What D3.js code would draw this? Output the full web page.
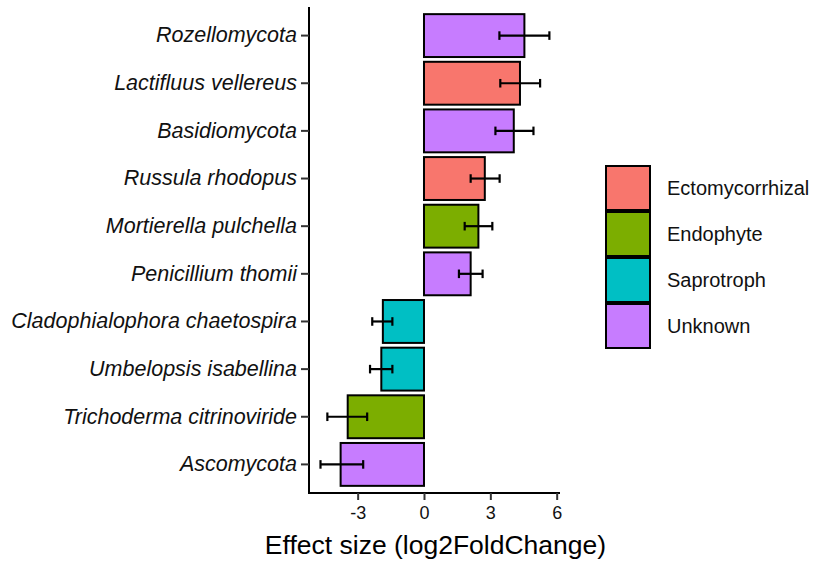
<!DOCTYPE html>
<html>
<head>
<meta charset="utf-8">
<script src="https://cdn.jsdelivr.net/npm/d3@7"></script>
<style>
  html, body { margin: 0; padding: 0; background: #fff; }
  svg { display: block; font-family: "Liberation Sans", Arial, sans-serif; }
</style>
</head>
<body>
<svg id="chart" width="821" height="563"></svg>
<script>
// Taxa, top to bottom
const taxa = [
  "Rozellomycota", "Lactifluus vellereus", "Basidiomycota", "Russula rhodopus",
  "Mortierella pulchella", "Penicillium thomii", "Cladophialophora chaetospira",
  "Umbelopsis isabellina", "Trichoderma citrinoviride", "Ascomycota"
];
// Effect size (log2FoldChange)
const effect = [4.54, 4.34, 4.06, 2.75, 2.46, 2.11, -1.86, -1.93, -3.45, -3.77];
// Error bar limits
const errLow  = [3.41, 3.45, 3.23, 2.11, 1.84, 1.58, -2.34, -2.44, -4.37, -4.68];
const errHigh = [5.67, 5.25, 4.95, 3.42, 3.09, 2.65, -1.43, -1.43, -2.57, -2.75];
// Functional guild of each taxon
const guild = [
  "Unknown", "Ectomycorrhizal", "Unknown", "Ectomycorrhizal", "Endophyte",
  "Unknown", "Saprotroph", "Saprotroph", "Endophyte", "Unknown"
];
const guilds = ["Ectomycorrhizal", "Endophyte", "Saprotroph", "Unknown"];
const guildColors = ["#F8766D", "#7CAE00", "#00BFC4", "#C77CFF"];
const xTicks = [-3, 0, 3, 6];

const rows = taxa.map((t, i) => ({
  taxon: t, value: effect[i], lo: errLow[i], hi: errHigh[i], guild: guild[i]
}));

const svg = d3.select("#chart");
const panel = { left: 309, right: 560, top: 7, bottom: 493 };

const x = d3.scaleLinear().domain([-5.2, 6.15]).range([panel.left, panel.right]);
const y = d3.scaleBand().domain(taxa).range([panel.top, panel.bottom])
  .paddingInner(0.1).paddingOuter(0.15);
const color = d3.scaleOrdinal().domain(guilds).range(guildColors);

// Bars
svg.append("g").selectAll("rect")
  .data(rows).join("rect")
  .attr("x", d => x(Math.min(0, d.value)))
  .attr("width", d => Math.abs(x(d.value) - x(0)))
  .attr("y", d => y(d.taxon))
  .attr("height", y.bandwidth())
  .attr("fill", d => color(d.guild))
  .attr("stroke", "#000")
  .attr("stroke-width", 2);

// Error bars
const cap = y.step() * 0.09;
const eb = svg.append("g").attr("stroke", "#000").attr("stroke-width", 2.2).attr("fill", "none");
rows.forEach(d => {
  const cy = y(d.taxon) + y.bandwidth() / 2;
  eb.append("line").attr("x1", x(d.lo)).attr("x2", x(d.hi)).attr("y1", cy).attr("y2", cy);
  eb.append("line").attr("x1", x(d.lo)).attr("x2", x(d.lo)).attr("y1", cy - cap).attr("y2", cy + cap);
  eb.append("line").attr("x1", x(d.hi)).attr("x2", x(d.hi)).attr("y1", cy - cap).attr("y2", cy + cap);
});

// X axis
const xAxis = svg.append("g")
  .attr("transform", `translate(0,${panel.bottom})`)
  .call(d3.axisBottom(x).tickValues(xTicks).tickFormat(d => String(d))
    .tickSize(7).tickPadding(6).tickSizeOuter(0));
xAxis.select(".domain").attr("stroke", "#000").attr("stroke-width", 2)
  .attr("d", `M${panel.left - 1},0H${panel.right}`);
xAxis.selectAll(".tick line").attr("stroke", "#333").attr("stroke-width", 2);
xAxis.selectAll(".tick text").attr("font-size", 18).attr("fill", "#111")
  .attr("font-family", "Liberation Sans, Arial, sans-serif");

// Y axis
const yAxis = svg.append("g")
  .attr("transform", `translate(${panel.left},0)`)
  .call(d3.axisLeft(y).tickSize(8).tickPadding(4).tickSizeOuter(0));
yAxis.select(".domain").attr("stroke", "#000").attr("stroke-width", 2)
  .attr("d", `M0,${panel.top}V${panel.bottom + 1}`);
yAxis.selectAll(".tick line").attr("stroke", "#333").attr("stroke-width", 2);
yAxis.selectAll(".tick text").attr("font-size", 21.5).attr("font-style", "italic")
  .attr("fill", "#111").attr("font-family", "Liberation Sans, Arial, sans-serif");

// X axis title
svg.append("text")
  .attr("x", (panel.left + panel.right) / 2 + 1)
  .attr("y", 554)
  .attr("text-anchor", "middle")
  .attr("font-size", 26.5)
  .attr("fill", "#000")
  .text("Effect size (log2FoldChange)");

// Legend
const legend = svg.append("g").attr("transform", "translate(605,165)");
const keyH = 46;
guilds.forEach((g, i) => {
  legend.append("rect")
    .attr("x", 1).attr("y", i * keyH + 1)
    .attr("width", 44).attr("height", keyH - 2)
    .attr("fill", color(g)).attr("stroke", "#000").attr("stroke-width", 2);
  legend.append("text")
    .attr("x", 62).attr("y", i * keyH + keyH / 2)
    .attr("dy", "0.35em")
    .attr("font-size", 20)
    .attr("fill", "#111")
    .text(g);
});
</script>
</body>
</html>
